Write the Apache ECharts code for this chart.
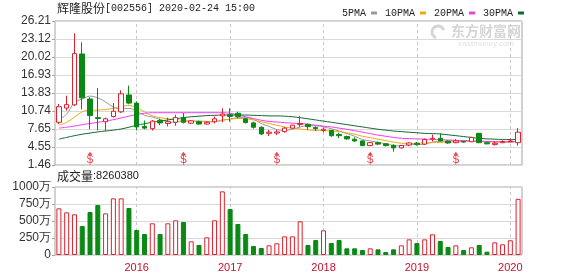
<!DOCTYPE html>
<html><head><meta charset="utf-8">
<script src="https://cdn.jsdelivr.net/npm/echarts@6/dist/echarts.min.js"></script>
<style>html,body{margin:0;padding:0;background:#fff}#c{width:578px;height:276px}</style>
</head><body><div id="c"></div><script>
// ---- data ----
const months = ['2015-03','2015-04','2015-05','2015-06','2015-07','2015-08','2015-09','2015-10','2015-11','2015-12',
'2016-01','2016-02','2016-03','2016-04','2016-05','2016-06','2016-07','2016-08','2016-09','2016-10','2016-11','2016-12',
'2017-01','2017-02','2017-03','2017-04','2017-05','2017-06','2017-07','2017-08','2017-09','2017-10','2017-11','2017-12',
'2018-01','2018-02','2018-03','2018-04','2018-05','2018-06','2018-07','2018-08','2018-09','2018-10','2018-11','2018-12',
'2019-01','2019-02','2019-03','2019-04','2019-05','2019-06','2019-07','2019-08','2019-09','2019-10','2019-11','2019-12',
'2020-01','2020-02'];
const open  = [8.80,11.26,11.8,20.54,12.8,9.6,8.9,9.8,10.6,13.5, 12.1,8.1,7.7,9.1,8.6,8.8,9.6,8.65,8.9,8.5,8.9,9.9, 10.1,10.35,9.4,8.7,7.95,6.9,6.95,7.2,7.8,8.4,8.45,7.9, 7.4,7.4,6.7,6.35,5.9,5.6,4.8,5.3,5.1,4.85,4.4,4.9, 5.2,5.05,5.9,6.05,5.55,5.3,5.5,5.45,6.9,5.3,5.0,5.3, 5.5,5.3];
const close = [11.48,11.83,20.6,13.0,9.95,9.45,9.4,10.7,13.7,12.1, 8.0,7.8,9.0,8.7,8.9,9.6,8.8,9.05,8.5,8.8,9.4,10.2, 9.8,9.8,8.75,7.95,6.8,7.1,7.15,7.8,8.3,8.6,8.05,7.7, 7.6,6.5,6.5,5.95,5.6,4.8,5.3,5.05,4.8,4.4,4.8,5.25, 5.0,5.85,6.05,5.6,5.25,5.6,5.4,6.2,5.3,5.1,5.2,5.5, 5.6,7.1];
const low   = [8.5,10.8,11.6,11.0,7.6,7.4,7.3,9.6,10.4,11.9, 7.4,7.6,7.4,8.3,8.1,8.2,8.6,8.5,8.4,8.4,8.6,8.8, 8.9,9.5,8.6,7.7,6.6,6.45,6.6,7.0,7.7,8.0,7.5,7.3, 7.1,6.3,6.1,5.8,5.4,4.7,4.7,4.9,4.65,3.75,4.3,4.7, 4.8,4.9,5.5,5.5,5.1,5.2,5.3,5.4,5.2,5.0,4.8,5.2, 5.4,4.8];
const high  = [11.95,13.37,24.1,22.55,13.1,14.7,9.6,12.1,14.3,15.1, 12.4,9.1,9.2,9.4,9.6,10.1,10.4,9.2,9.1,9.0,9.8,11.2, 11.2,10.6,9.5,8.9,8.1,7.5,7.5,8.0,8.4,9.9,8.6,8.1, 7.9,7.5,7.0,6.5,6.2,5.7,5.4,5.5,5.2,5.0,4.9,5.4, 5.4,6.0,6.7,6.9,5.7,5.9,5.6,6.3,7.0,5.4,5.5,5.7, 6.0,7.8];
const volume = [686,627,598,426,632,735,612,833,833,691, 368,309,466,309,466,510,485,201,147,260,510,936, 676,456,309,132,103,142,172,274,274,495,147,220, 363,176,220,98,98,73,98,83,44,83,142,230, 176,230,304,206,118,142,73,113,147,49,186,157, 216,826];
const ma5  = [9.3,10.2,12.2,12.8,13.3,13.0,12.3,11.4,11.1,11.2, 10.7,10.0,9.7,9.3,8.9,8.8,9.0,9.0,9.0,8.95,8.9,9.2, 9.35,9.6,9.6,9.3,8.6,8.1,7.55,7.4,7.6,8.0,8.2,8.2, 8.0,7.7,7.3,6.85,6.4,5.85,5.6,5.35,5.1,4.8,4.75,4.95, 4.95,5.05,5.4,5.55,5.55,5.55,5.6,5.6,5.5,5.5,5.45,5.45, 5.35,5.7];
const ma10 = [8.3,8.8,9.7,10.6,10.9,10.9,11.0,11.2,11.5,11.7, 11.3,10.6,9.9,9.6,9.4,9.3,9.1,9.0,8.95,8.9,8.9,9.1, 9.35,9.45,9.4,9.2,8.9,8.6,8.3,8.0,7.8,7.65,7.5,7.4, 7.35,7.3,7.2,7.0,6.75,6.4,6.15,5.9,5.65,5.4,5.2,5.15, 5.2,5.25,5.3,5.35,5.4,5.45,5.5,5.5,5.55,5.5,5.45,5.45, 5.45,5.55];
const ma20 = [7.8,7.95,8.15,8.4,8.6,8.8,9.0,9.25,9.55,9.85, 10.15,10.35,10.45,10.45,10.45,10.45,10.45,10.45,10.45,10.45,10.45,10.45, 10.35,10.05,9.75,9.45,9.15,8.95,8.85,8.75,8.65,8.6,8.45,8.3, 8.15,8.0,7.8,7.6,7.35,7.1,6.85,6.6,6.4,6.2,6.05,6.0, 5.95,5.9,5.85,5.8,5.75,5.7,5.65,5.6,5.55,5.5,5.45,5.45, 5.45,5.5];
const ma30 = [5.9,6.2,6.5,6.75,6.95,7.15,7.3,7.45,7.65,7.95, 8.3,8.55,8.8,9.0,9.2,9.4,9.6,9.75,9.85,9.95,10.0,10.05, 10.05,10.05,10.05,10.0,9.95,9.9,9.9,9.85,9.75,9.6,9.4,9.2, 9.0,8.8,8.6,8.4,8.2,8.0,7.8,7.6,7.45,7.3,7.2,7.1, 7.0,6.9,6.85,6.8,6.65,6.5,6.35,6.2,6.05,5.95,5.9,5.85, 5.85,5.85];
const priceTicks = [1.46,4.55,7.65,10.74,13.83,16.93,20.02,23.12,26.21];
const volTicks = [0,250,500,750,1000];
const volTickLabels = ['0','250万','500万','750万','1000万'];
const yearStarts = ['2016-01','2017-01','2018-01','2019-01','2020-01'];
const dividendMonths = ['2015-07','2016-07','2017-07','2018-07','2019-06'];
const maNames = ['5PMA','10PMA','20PMA','30PMA'];
const stockName = '辉隆股份', stockCode = '[002556] 2020-02-24 15:00';
const volLabel = '成交量', volValue = ':8260380';

// ---- style ----
const UP = '#e0202c', DOWN = '#0a8a14';
const maColors = ['#9a9a9a','#f0a818','#f03cf0','#0e6a34'];
const markY = 2.62;

const chart = echarts.init(document.getElementById('c'));
const candleData = months.map((m,i)=>[open[i],close[i],low[i],high[i]]);
const volData = volume.map((v,i)=>({value:v, itemStyle: close[i]>=open[i]
  ? {color:'#fff', borderColor:UP, borderWidth:1}
  : {color:DOWN, borderColor:DOWN, borderWidth:1}}));
const yearLine = (gi)=>({symbol:['none','none'], silent:true, label:{show:false}, z:1,
  lineStyle:{type:[3,3], color:'#c8c8c8', width:1}, emphasis:{disabled:true},
  data: yearStarts.map(m=>({xAxis:m}))});
const maSeries = [ma5,ma10,ma20,ma30].map((d,k)=>({name:maNames[k], type:'line', data:d, xAxisIndex:0, yAxisIndex:0,
  showSymbol:false, smooth:0.35, color:maColors[k], lineStyle:{width:1, color:maColors[k]}, z:3}));

const option = {
  animation:false,
  textStyle:{fontFamily:'Liberation Sans'},
  legend:{left:337, top:3, icon:'rect', itemWidth:6, itemHeight:3, itemGap:8, align:'right',
    textStyle:{fontFamily:'Liberation Mono', fontSize:10, color:'#222'}, data:maNames},
  graphic:[
    {type:'text', left:57, top:2, style:{text:'{a|'+stockName+'}{b|'+stockCode+'}',
      rich:{a:{fontFamily:'Noto Sans CJK SC', fontSize:12, fill:'#222'}, b:{fontFamily:'Liberation Mono', fontSize:10, fill:'#222'}}}},
    {type:'text', left:57, top:170, style:{text:'{a|'+volLabel+'}{b|'+volValue+'}',
      rich:{a:{fontFamily:'Noto Sans CJK SC', fontSize:12, fill:'#222'}, b:{fontFamily:'Liberation Sans', fontSize:11, fill:'#222'}}}},
    {type:'text', right:57, top:24, style:{text:'东方财富网', font:'bold 14px "Noto Sans CJK SC"', fill:'#d6d6d6'}},
    {type:'text', right:64, top:40, style:{text:'eastmoney.com', font:'8px "Liberation Sans"', fill:'#e2e2e2'}},
    {type:'arc', shape:{cx:438, cy:32, r:6, startAngle:Math.PI*0.6, endAngle:Math.PI*1.9}, style:{stroke:'#d6d6d6', lineWidth:3, fill:null}}
  ],
  grid:[
    {left:55, right:56, top:21, height:144, show:true, borderColor:'#a4a4a4', borderWidth:1},
    {left:55, right:56, top:187, height:68, show:true, borderColor:'#a4a4a4', borderWidth:1}
  ],
  xAxis:[
    {type:'category', gridIndex:0, data:months, axisLine:{show:false}, axisTick:{show:false}, axisLabel:{show:false}, splitLine:{show:false}},
    {type:'category', gridIndex:1, data:months, axisLine:{show:false}, axisTick:{show:false}, splitLine:{show:false},
      axisLabel:{interval:(i,v)=>yearStarts.indexOf(v)>=0, formatter:v=>v.slice(0,4), color:'#c8102e', fontSize:11, margin:7}}
  ],
  yAxis:[
    {type:'value', gridIndex:0, min:priceTicks[0], max:priceTicks[priceTicks.length-1], axisLine:{show:false},
      axisTick:{show:true, length:3, customValues:priceTicks, lineStyle:{color:'#a4a4a4'}},
      axisLabel:{customValues:priceTicks, formatter:v=>v.toFixed(2), color:'#333', fontSize:12, margin:4},
      splitLine:{show:true, lineStyle:{color:'#d9d9d9', width:1}}},
    {type:'value', gridIndex:1, min:volTicks[0], max:volTicks[volTicks.length-1], interval:volTicks[1]-volTicks[0], axisLine:{show:false},
      axisTick:{show:true, length:3, lineStyle:{color:'#a4a4a4'}},
      axisLabel:{formatter:v=>volTickLabels[volTicks.indexOf(v)], color:'#333', fontSize:12, margin:4},
      splitLine:{show:true, lineStyle:{color:'#d9d9d9', width:1}}}
  ],
  series:[
    {type:'candlestick', data:candleData, xAxisIndex:0, yAxisIndex:0, barWidth:5, z:4,
      itemStyle:{color:'#fff', color0:DOWN, borderColor:UP, borderColor0:DOWN, borderWidth:1},
      markLine:yearLine(0)},
    ...maSeries,
    {type:'scatter', xAxisIndex:0, yAxisIndex:0, z:5, data:dividendMonths.map(m=>[m, markY]),
      symbol:'path://M3,0 L6,4 L3.5,4 L3.5,16 L2.5,16 L2.5,4 L0,4 Z', symbolSize:[5,13],
      itemStyle:{color:UP},
      label:{show:true, formatter:'S', position:'inside', offset:[0,2], color:UP, fontSize:11, fontFamily:'Liberation Sans'}},
    {type:'bar', data:volData, xAxisIndex:1, yAxisIndex:1, barWidth:5, z:4, markLine:yearLine(1)}
  ]
};
chart.setOption(option);
</script></body></html>
